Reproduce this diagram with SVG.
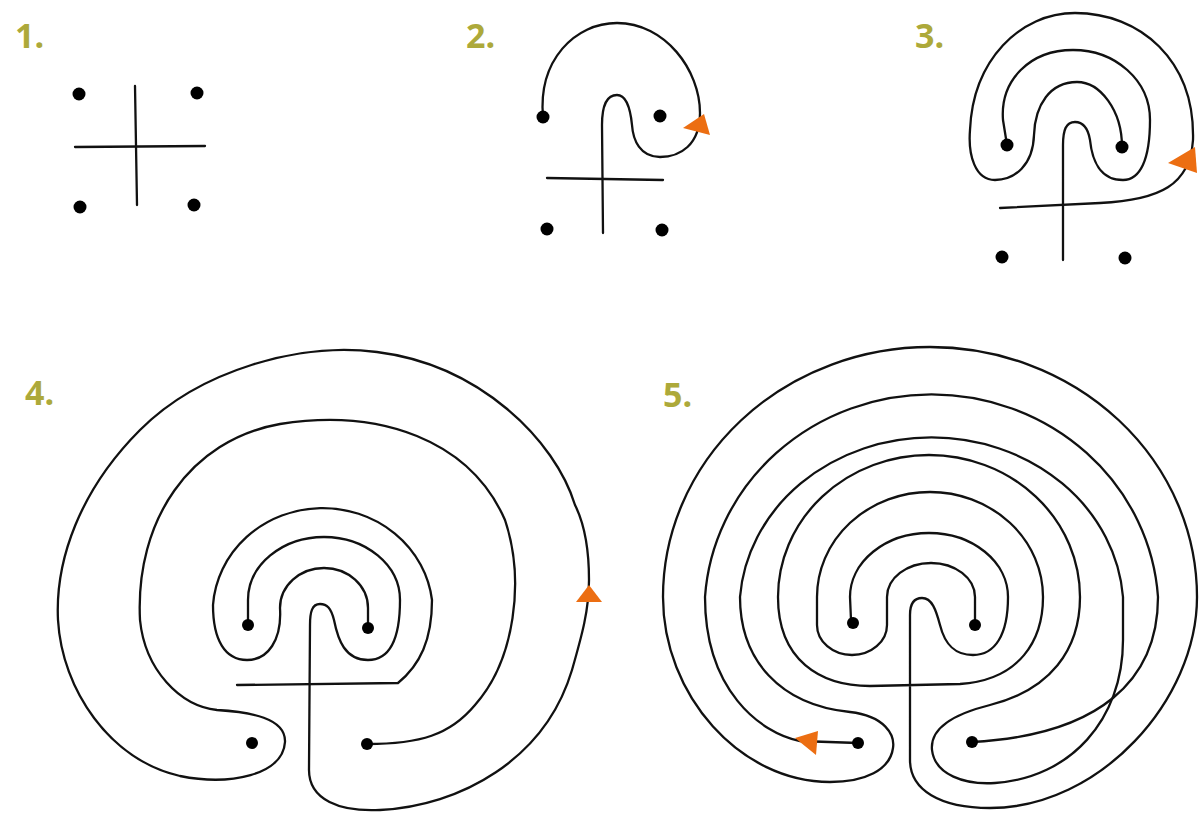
<svg xmlns="http://www.w3.org/2000/svg" width="1199" height="813" viewBox="0 0 1199 813">
<style>
.ln{fill:none;stroke:#111;stroke-width:2.3;stroke-linecap:round;stroke-linejoin:round}
.dot{fill:#000}
.arr{fill:#ec6e12}
.lbl{font-family:"Open Sans","Liberation Sans",sans-serif;font-weight:700;font-size:34px;fill:#ada93a}
</style>
<rect width="1199" height="813" fill="#fff"/>
<g id="step1">
<text class="lbl" x="15" y="48">1.</text>
<line class="ln" x1="135" y1="86" x2="137" y2="205"/>
<line class="ln" x1="75" y1="147" x2="205" y2="146"/>
<circle class="dot" cx="79" cy="94" r="6.5"/>
<circle class="dot" cx="197" cy="93" r="6.5"/>
<circle class="dot" cx="80" cy="207" r="6.5"/>
<circle class="dot" cx="194" cy="205" r="6.5"/>
</g>
<g id="step2">
<text class="lbl" x="466" y="48">2.</text>
<path class="ln" d="M547 178 L663 180"/>
<path class="ln" d="M543 117 C538 60 575 23 617 23 C665 23 700 70 700 113 C700 145 680 157 660 157 C640 157 633 140 632 125 C630 105 625 95 617 95 C605 95 602 110 602 125 L603 233"/>
<circle class="dot" cx="543" cy="117" r="6.5"/>
<circle class="dot" cx="660" cy="116" r="6.5"/>
<circle class="dot" cx="547" cy="229" r="6.5"/>
<circle class="dot" cx="662" cy="230" r="6.5"/>
<polygon class="arr" points="683,128 704,114 710,135"/>
</g>
<g id="step3">
<text class="lbl" x="915" y="48">3.</text>
<path class="ln" d="M1007 145 L1003 120 C1000 80 1030 50 1073 50 C1115 50 1150 80 1150 120 C1150 160 1140 180 1123 180 C1100 180 1092 160 1090 140 C1088 128 1083 122 1075 122 C1066 122 1063 130 1063 145 L1063 260"/>
<path class="ln" d="M1122 147 C1122 110 1100 82 1077 82 C1050 82 1035 105 1034 135 C1033 165 1015 180 995 180 C975 180 968 155 970 130 C973 60 1020 13 1075 13 C1140 13 1195 60 1193 140 C1190 185 1160 200 1100 203 L1000 208"/>
<circle class="dot" cx="1007" cy="145" r="6.5"/>
<circle class="dot" cx="1122" cy="147" r="6.5"/>
<circle class="dot" cx="1002" cy="257" r="6.5"/>
<circle class="dot" cx="1125" cy="258" r="6.5"/>
<polygon class="arr" points="1168,163 1195,147 1197,173"/>
</g>
<g id="step4">
<text class="lbl" x="25" y="405">4.</text>
<path class="ln" d="M368 628 L368 608 A44 40 0 0 0 280 608 C282 640 268 660 247 660 C225 660 213 640 213 605 A110 104 0 0 1 432 600 C432 640 420 665 398 683 L237 685"/>
<path class="ln" d="M248 625 L248 600 A76 63 0 0 1 400 600 C400 640 390 660 368 660 C345 660 338 640 334 620 C331 608 327 604 320 604 C312 604 310 612 310 625 L309 770 C309 800 340 812 380 810 C460 806 545 760 572 670 C582 635 589 610 589 580 C589 550 585 525 575 505 C555 440 480 365 377 352 C300 342 200 370 140 430 C80 490 55 560 58 620 C62 690 110 760 180 776 C230 786 283 775 285 742 C286 718 250 712 217 710 C180 706 145 670 140 620 C135 520 190 440 280 424 C380 408 470 440 505 520 C525 580 515 660 475 705 C450 735 420 744 367 744"/>
<circle class="dot" cx="248" cy="625" r="6"/>
<circle class="dot" cx="368" cy="628" r="6"/>
<circle class="dot" cx="252" cy="743" r="6"/>
<circle class="dot" cx="367" cy="744" r="6"/>
<polygon class="arr" points="576,602 589,585 602,602"/>
</g>
<g id="step5">
<text class="lbl" x="663" y="407">5.</text>
<path class="ln" d="M975 625 L975 597 A44 34 0 0 0 887 597 L887 625 A35 30 0 0 1 817 625 L817 597 A113 105 0 0 1 1043 597 C1043 640 1020 680 960 684 L870 686 C820 686 778 660 778 597 A151 142 0 0 1 1080 597 C1080 650 1050 690 990 705 C950 715 930 730 932 750 C935 775 965 785 995 783 C1070 778 1123 720 1123 640 L1123 597 A192 172 0 0 0 740 597 C740 660 780 705 850 712 C885 716 895 735 893 748 C890 770 865 782 830 782 C740 782 663 695 663 597 A267 250 0 0 1 1197 597 C1197 700 1100 808 990 808 C940 808 910 790 910 760 L910 615 C910 603 915 598 922 598 C932 598 936 610 940 625 C945 645 955 655 973 655 C995 655 1008 635 1008 597 A79 64 0 0 0 850 597 L851 620"/>
<path class="ln" d="M858 743 L800 741 C760 733 705 690 705 597 A227 217 0 0 1 1158 597 C1158 680 1100 735 972 742"/>
<circle class="dot" cx="853" cy="623" r="6"/>
<circle class="dot" cx="975" cy="625" r="6"/>
<circle class="dot" cx="858" cy="743" r="6"/>
<circle class="dot" cx="972" cy="742" r="6"/>
<polygon class="arr" points="795,738 818,731 816,755"/>
</g>
</svg>
